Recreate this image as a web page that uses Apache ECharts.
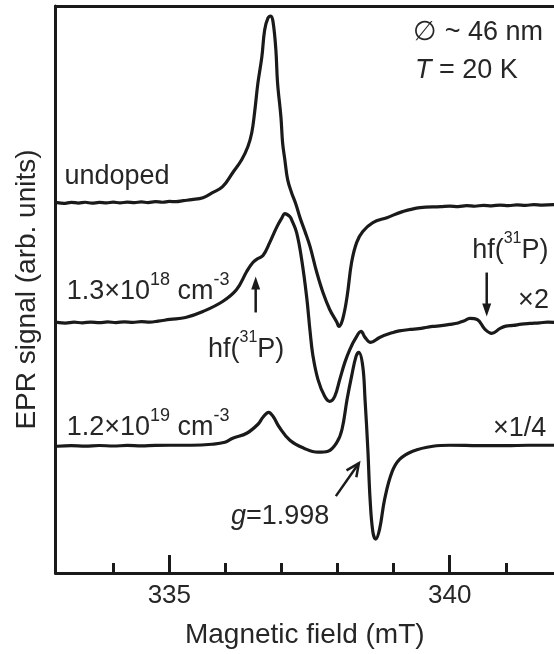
<!DOCTYPE html>
<html>
<head>
<meta charset="utf-8">
<script src="https://cdn.jsdelivr.net/npm/echarts@6/dist/echarts.min.js"></script>
<style>
  html, body { margin: 0; padding: 0; background: #fff; }
  #chart { width: 554px; height: 654px; }
</style>
</head>
<body>
<div id="chart"></div>
<script>
// Field axis (mT) and tick positions
const FIELD_MIN = 332.97;
const FIELD_MAX = 341.86;
const majorTicks = [335, 340];
const minorTicks = [334, 336, 337, 338, 339, 341];

// EPR derivative spectra, stacked with vertical offsets (arb. units): [field mT, signal]
const undoped = [
  [333.00, 371], [333.12, 370.2], [333.25, 371.3], [333.38, 370.6], [333.50, 371.4],
  [333.62, 370.5], [333.75, 371.2], [333.88, 370.7], [334.00, 371.5], [334.12, 370.8],
  [334.25, 371.6], [334.38, 371.0], [334.50, 371.8], [334.62, 371.1], [334.75, 372.0],
  [334.88, 371.4], [335.00, 372.2], [335.12, 372.0], [335.25, 373.0], [335.40, 374],
  [335.60, 376], [335.77, 381], [335.95, 387], [336.13, 401], [336.29, 414],
  [336.40, 427], [336.47, 441], [336.52, 461], [336.58, 491], [336.65, 517],
  [336.70, 544], [336.76, 556], [336.81, 558], [336.85, 552], [336.90, 524],
  [336.93, 491], [336.99, 457], [337.02, 431], [337.06, 414], [337.11, 394],
  [337.18, 381], [337.26, 369], [337.33, 356], [337.42, 342], [337.51, 327],
  [337.63, 301], [337.74, 281], [337.86, 264], [337.99, 251], [338.02, 247],
  [338.09, 254], [338.17, 277], [338.25, 311], [338.34, 331], [338.45, 342],
  [338.63, 351], [338.88, 356], [339.16, 362], [339.47, 366], [339.84, 367],
  [340.00, 367.6], [340.15, 367.1], [340.30, 368.0], [340.45, 367.4], [340.60, 368.3],
  [340.75, 367.8], [340.90, 368.6], [341.05, 368.0], [341.20, 368.8], [341.35, 368.3],
  [341.50, 369.0], [341.65, 368.5], [341.86, 369]
];

const doped18 = [
  [333.00, 251], [333.15, 250.4], [333.30, 251.3], [333.45, 250.6], [333.60, 251.4],
  [333.75, 250.8], [333.90, 251.5], [334.05, 250.9], [334.20, 251.6], [334.35, 251.1],
  [334.50, 251.8], [334.65, 251.4], [334.80, 252.3], [335.01, 254], [335.29, 256],
  [335.60, 262], [335.95, 272], [336.20, 284], [336.38, 302], [336.49, 311],
  [336.58, 315], [336.67, 318], [336.79, 331], [336.92, 347], [337.01, 356],
  [337.06, 360], [337.15, 357], [337.18, 354], [337.27, 341], [337.36, 314],
  [337.45, 276], [337.51, 242], [337.56, 218], [337.65, 194], [337.77, 177],
  [337.86, 172], [337.95, 177], [338.04, 194], [338.13, 211], [338.22, 224],
  [338.31, 234], [338.42, 242], [338.49, 236], [338.59, 231], [338.75, 236],
  [338.99, 241], [339.10, 242.5], [339.29, 244], [339.45, 244.8], [339.60, 246.2],
  [339.70, 247], [339.85, 247.8], [340.00, 249], [340.15, 250.5], [340.25, 252.5],
  [340.36, 255], [340.49, 254], [340.63, 244], [340.75, 240], [340.90, 245],
  [341.00, 247.3], [341.13, 248], [341.28, 249.3], [341.43, 250], [341.60, 250.6],
  [341.75, 251.3], [341.86, 251]
];

const doped19 = [
  [333.00, 127], [333.25, 127.6], [333.50, 127.1], [333.75, 127.7], [334.00, 127.2],
  [334.25, 127.8], [334.50, 127.3], [334.75, 127.9], [335.01, 128], [335.40, 128],
  [335.76, 129], [335.99, 131], [336.13, 135], [336.38, 140], [336.58, 149],
  [336.67, 156], [336.77, 161], [336.86, 156], [336.95, 147], [337.15, 133],
  [337.40, 125], [337.65, 121], [337.83, 122], [337.99, 131], [338.08, 144],
  [338.17, 174], [338.25, 197], [338.33, 217], [338.38, 221], [338.45, 207],
  [338.49, 174], [338.54, 124], [338.58, 74], [338.63, 41], [338.68, 34],
  [338.75, 44], [338.84, 74], [338.97, 101], [339.11, 114], [339.34, 122],
  [339.70, 127], [340.00, 128], [340.50, 127.6], [341.00, 127.5], [341.40, 128], [341.86, 128]
];

const FONT = '"Liberation Sans", Arial, Helvetica, sans-serif';
const INK = '#1a1a1a';
const TEXT_INK = '#262626';

const chart = echarts.init(document.getElementById('chart'), null, { renderer: 'canvas' });

function curve(name, data) {
  return {
    name, type: 'line', data,
    xAxisIndex: 0, yAxisIndex: 0,
    showSymbol: false, symbol: 'none',
    smooth: 0.4,
    lineStyle: { color: INK, width: 3.2, join: 'round', cap: 'round' },
    silent: true, animation: false
  };
}

chart.setOption({
  animation: false,
  backgroundColor: '#fff',
  grid: { left: 55.5, right: 0, top: 6, bottom: 80, containLabel: false },
  xAxis: [
    {
      type: 'value', position: 'bottom', min: FIELD_MIN, max: FIELD_MAX,
      name: 'Magnetic field (mT)', nameLocation: 'middle', nameGap: 48,
      nameTextStyle: { fontSize: 28, color: TEXT_INK, fontFamily: FONT },
      axisLine: { show: true, onZero: false, lineStyle: { color: INK, width: 3 } },
      axisTick: { show: true, inside: true, length: 10, customValues: minorTicks,
                  lineStyle: { color: INK, width: 3 } },
      axisLabel: { show: true, customValues: majorTicks, margin: 10, fontSize: 26,
                   color: TEXT_INK, fontFamily: FONT },
      splitLine: { show: false }
    },
    {
      type: 'value', position: 'bottom', min: FIELD_MIN, max: FIELD_MAX,
      axisLine: { show: false },
      axisTick: { show: true, inside: true, length: 18, customValues: majorTicks,
                  lineStyle: { color: INK, width: 3 } },
      axisLabel: { show: false },
      splitLine: { show: false }
    },
    {
      type: 'value', position: 'top', min: FIELD_MIN, max: FIELD_MAX,
      axisLine: { show: true, onZero: false, lineStyle: { color: INK, width: 3 } },
      axisTick: { show: false }, axisLabel: { show: false }, splitLine: { show: false }
    }
  ],
  yAxis: {
    type: 'value', min: 0, max: 568,
    name: 'EPR signal (arb. units)', nameLocation: 'middle', nameRotate: 90, nameGap: 14,
    nameTextStyle: { fontSize: 28, color: TEXT_INK, fontFamily: FONT },
    axisLine: { show: true, onZero: false, lineStyle: { color: INK, width: 3 } },
    axisTick: { show: false }, axisLabel: { show: false }, splitLine: { show: false }
  },
  series: [
    curve('undoped', undoped),
    curve('1.3e18', doped18),
    curve('1.2e19', doped19)
  ]
});

// Annotation text, anchored in data coordinates (left edge, vertical centre)
const M = { fontSize: 27, lineHeight: 40, fontFamily: FONT, fill: TEXT_INK };
const MI = Object.assign({}, M, { fontStyle: 'italic' });
const SUP = { fontSize: 18, lineHeight: 18, fontFamily: FONT, fill: TEXT_INK, verticalAlign: 'top' };
const SUPS = { fontSize: 16, lineHeight: 18, fontFamily: FONT, fill: TEXT_INK, verticalAlign: 'top' };
const rich = { m: M, i: MI, s: SUP, t: SUPS };

const notes = [
  { at: [339.35, 541], text: '{m|\u2205 ~ 46 nm}' },
  { at: [339.38, 503], text: '{i|T}{m| = 20 K}' },
  { at: [333.13, 397], text: '{m|undoped}' },
  { at: [333.17, 282], text: '{m|1.3\u00d710}{s|18}{m| cm}{s|-3}' },
  { at: [335.69, 224], text: '{m|hf(}{t|31}{m|P)}' },
  { at: [340.40, 323], text: '{m|hf(}{t|31}{m|P)}' },
  { at: [341.22, 273], text: '{m|\u00d72}' },
  { at: [333.17, 146], text: '{m|1.2\u00d710}{s|19}{m| cm}{s|-3}' },
  { at: [340.77, 145], text: '{m|\u00d71/4}' },
  { at: [336.10, 57], text: '{i|g}{m|=1.998}' }
];

// Pointer arrows: [from, to] in data coordinates; filled or open heads
const arrows = [
  { from: [336.54, 261], to: [336.54, 297], head: 'filled' },
  { from: [340.66, 301], to: [340.66, 257], head: 'filled' },
  { from: [337.97, 77], to: [338.38, 110], head: 'open' }
];

function px(p) { return chart.convertToPixel({ gridIndex: 0 }, p); }

const graphics = [];
notes.forEach(n => {
  const p = px(n.at);
  graphics.push({
    type: 'text', x: p[0], y: p[1], silent: true,
    style: { text: n.text, rich, fill: TEXT_INK, font: '27px ' + FONT,
             align: 'left', verticalAlign: 'middle',
             textAlign: 'left', textVerticalAlign: 'middle' }
  });
});

arrows.forEach(a => {
  const s = px(a.from), e = px(a.to);
  const dx = e[0] - s[0], dy = e[1] - s[1];
  const len = Math.hypot(dx, dy);
  const ux = dx / len, uy = dy / len;
  const headLen = 13, headHalf = a.head === 'filled' ? 4.5 : 6;
  const bx = e[0] - ux * headLen, by = e[1] - uy * headLen;
  const lx = bx - uy * headHalf, ly = by + ux * headHalf;
  const rx = bx + uy * headHalf, ry = by - ux * headHalf;
  if (a.head === 'filled') {
    graphics.push({ type: 'line', silent: true,
      shape: { x1: s[0], y1: s[1], x2: bx + ux * 2, y2: by + uy * 2 },
      style: { stroke: INK, lineWidth: 2.5 } });
    graphics.push({ type: 'polygon', silent: true,
      shape: { points: [[e[0], e[1]], [lx, ly], [rx, ry]] },
      style: { fill: INK } });
  } else {
    graphics.push({ type: 'line', silent: true,
      shape: { x1: s[0], y1: s[1], x2: e[0], y2: e[1] },
      style: { stroke: INK, lineWidth: 2.5 } });
    graphics.push({ type: 'polyline', silent: true,
      shape: { points: [[lx, ly], [e[0], e[1]], [rx, ry]] },
      style: { stroke: INK, lineWidth: 2.5, fill: null } });
  }
});

chart.setOption({ graphic: graphics });
</script>
</body>
</html>
